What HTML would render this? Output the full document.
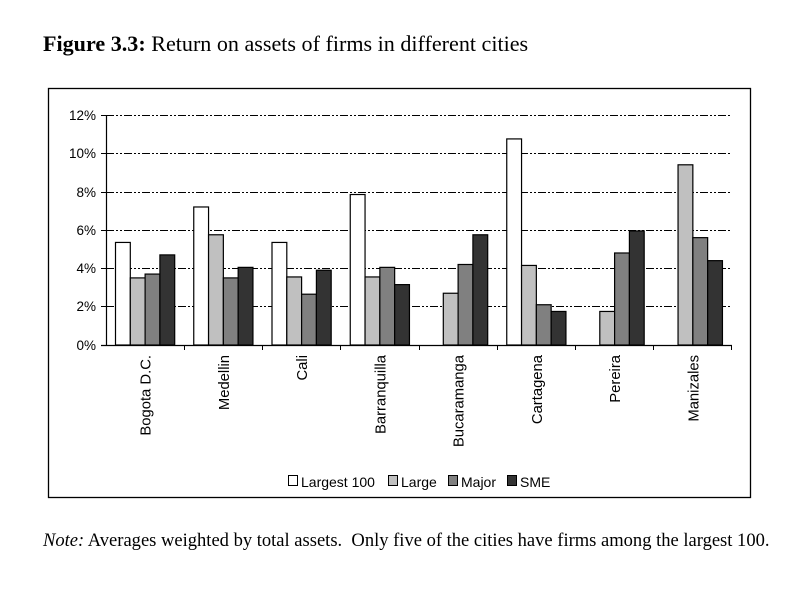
<!DOCTYPE html>
<html><head><meta charset="utf-8"><style>
body{margin:0;background:#fff;width:804px;height:592px;overflow:hidden;}
</style></head><body>
<svg width="804" height="592" xmlns="http://www.w3.org/2000/svg" font-family="Liberation Sans, sans-serif">
<rect width="804" height="592" fill="#fff"/>
<text x="43" y="51" font-family="Liberation Serif, serif" font-size="22.1"><tspan font-weight="bold">Figure 3.3:</tspan> Return on assets of firms in different cities</text>
<rect x="48.5" y="88.5" width="702" height="409" fill="none" stroke="#000" stroke-width="1.3"/>
<g stroke="#000" stroke-width="1" stroke-dasharray="8,2,2,2,2,2">
<line x1="106" y1="115.5" x2="732" y2="115.5"/>
<line x1="106" y1="153.5" x2="732" y2="153.5"/>
<line x1="106" y1="192.5" x2="732" y2="192.5"/>
<line x1="106" y1="230.5" x2="732" y2="230.5"/>
<line x1="106" y1="268.5" x2="732" y2="268.5"/>
<line x1="106" y1="306.5" x2="732" y2="306.5"/>
</g>
<g font-size="13.5" text-anchor="end">
<text x="96" y="120">12%</text><text x="96" y="158">10%</text><text x="96" y="197">8%</text>
<text x="96" y="235">6%</text><text x="96" y="273">4%</text><text x="96" y="311">2%</text><text x="96" y="350">0%</text>
</g>
<g stroke="#000" stroke-width="1.2" id="bars"></g>
<line x1="106.5" y1="115" x2="106.5" y2="345" stroke="#000" stroke-width="1.2"/>
<line x1="101" y1="345.5" x2="732" y2="345.5" stroke="#000" stroke-width="1.2"/>
<g stroke="#000" stroke-width="1">
<line x1="101" y1="115.5" x2="106" y2="115.5"/><line x1="101" y1="153.5" x2="106" y2="153.5"/><line x1="101" y1="192.5" x2="106" y2="192.5"/><line x1="101" y1="230.5" x2="106" y2="230.5"/><line x1="101" y1="268.5" x2="106" y2="268.5"/><line x1="101" y1="306.5" x2="106" y2="306.5"/>
<line x1="184.5" y1="345" x2="184.5" y2="350"/><line x1="262.5" y1="345" x2="262.5" y2="350"/><line x1="340.5" y1="345" x2="340.5" y2="350"/><line x1="419.5" y1="345" x2="419.5" y2="350"/><line x1="497.5" y1="345" x2="497.5" y2="350"/><line x1="575.5" y1="345" x2="575.5" y2="350"/><line x1="653.5" y1="345" x2="653.5" y2="350"/><line x1="731.5" y1="345" x2="731.5" y2="350"/>
</g>
<g font-size="14.8" text-anchor="end" id="labels"></g>
<g font-size="14">
<rect x="288.5" y="475.5" width="9" height="10" fill="#fff" stroke="#000"/><text x="301" y="487">Largest 100</text>
<rect x="388.5" y="475.5" width="9" height="10" fill="#c0c0c0" stroke="#000"/><text x="401" y="487">Large</text>
<rect x="448.5" y="475.5" width="9" height="10" fill="#808080" stroke="#000"/><text x="461" y="487">Major</text>
<rect x="507.5" y="475.5" width="9" height="10" fill="#333" stroke="#000"/><text x="520" y="487">SME</text>
</g>
<text x="43" y="546" font-family="Liberation Serif, serif" font-size="18.55" xml:space="preserve"><tspan font-style="italic">Note:</tspan> Averages weighted by total assets.  Only five of the cities have firms among the largest 100.</text>
<script>
var d=[["Bogota D.C.",[5.35,3.5,3.7,4.7]],["Medellin",[7.2,5.75,3.5,4.05]],["Cali",[5.35,3.55,2.65,3.9]],["Barranquilla",[7.85,3.55,4.05,3.15]],["Bucaramanga",[0,2.7,4.2,5.75]],["Cartagena",[10.75,4.15,2.1,1.75]],["Pereira",[0,1.75,4.8,5.95]],["Manizales",[0,9.4,5.6,4.4]]];
var cols=["#fff","#c0c0c0","#808080","#333"],ns="http://www.w3.org/2000/svg",b=document.getElementById("bars"),l=document.getElementById("labels");
d.forEach(function(g,i){var t=106+i*78.25;g[1].forEach(function(v,j){if(!v)return;var h=v*19.17,r=document.createElementNS(ns,"rect");r.setAttribute("x",t+9.5+j*14.8);r.setAttribute("y",345-h);r.setAttribute("width",14.8);r.setAttribute("height",h);r.setAttribute("fill",cols[j]);b.appendChild(r);});
var tx=document.createElementNS(ns,"text");var cx=t+44.5;tx.setAttribute("transform","translate("+cx+",355) rotate(-90)");tx.textContent=g[0];l.appendChild(tx);});
</script>
</svg>
</body></html>
